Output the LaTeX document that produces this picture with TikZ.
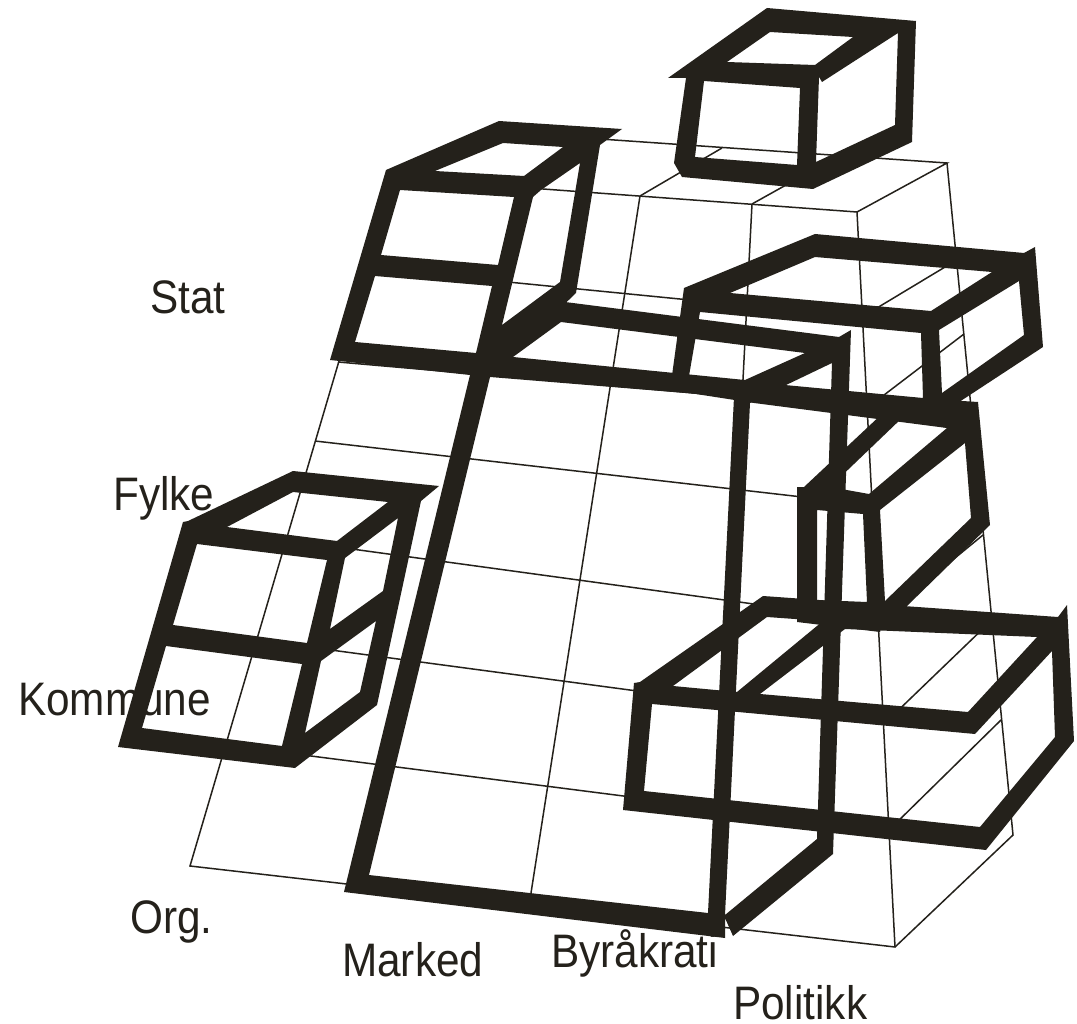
\documentclass[tikz,border=0pt]{standalone}
\usepackage{fontspec}
\usepackage{graphicx}
\setmainfont{Liberation Sans}
\definecolor{ink}{RGB}{36,33,27}
\tikzset{
  thinline/.style={draw=ink,line width=1.5pt,line join=miter},
  thickframe/.style={fill=ink,even odd rule,draw=none},
  axislabel/.style={anchor=base west,inner sep=0pt,text=ink,font=\fontsize{47}{50}\selectfont}
}
\newcommand{\lab}[1]{\scalebox{0.9}[1]{#1}}
\begin{document}
\begin{tikzpicture}[x=1pt,y=-1pt]
\fill[white] (0,0) rectangle (1077,1024);
\useasboundingbox (0,0) rectangle (1077,1024);

% thin grid
\draw[thinline] (393,178) -- (857,212) -- (947,163) -- (600,139);
\draw[thinline] (393,178) -- (190,866) -- (895,947) -- (1013,835) -- (947,163);
\draw[thinline] (857,212) -- (895,947);
\draw[thinline] (640,196) -- (531,893);
\draw[thinline] (752,204) -- (715,925);
\draw[thinline] (640,196) -- (722,148);
\draw[thinline] (752,204) -- (838,156);
\draw[thinline] (366,268) -- (862,317) -- (955,261);
\draw[thinline] (338,362) -- (867,408) -- (964,334);
\draw[thinline] (315,441) -- (872,505) -- (973,430);
\draw[thinline] (286,540) -- (878,621) -- (983,535);
\draw[thinline] (256,640) -- (884,724) -- (992,620);
\draw[thinline] (225,745) -- (889,830) -- (1001,720);

% top box
\path[thickframe]
  (767,8) -- (916,21) -- (912,142) -- (813,189) -- (682,177) -- (674,163) -- (686,78) -- (668,78) -- cycle
  (770,32) -- (853,37) -- (815,65) -- (727,62) -- cycle
  (704,81) -- (800,88) -- (797,165) -- (695,157) -- cycle
  (898,33) -- (895,125) -- (816,162) -- (819,77) -- (822,82) -- cycle;

% Stat box on the left
\path[thickframe]
  (499,121) -- (622,129) -- (600,145) -- (576,293) -- (488,378) -- (470,375) -- (330,360) -- (386,170) -- cycle
  (503,143) -- (563,147) -- (524,176) -- (435,171) -- cycle
  (400,190) -- (514,197) -- (498,265) -- (381,255) -- cycle
  (375,276) -- (492,286) -- (476,353) -- (355,342) -- cycle
  (580,163) -- (560,282) -- (502,325) -- (533,197) -- (541,190) -- cycle;

% large Marked box
\path[thickframe]
  (565,302) -- (839,337) -- (851,330) -- (833,854) -- (733,936) -- (725,918) -- (725,938) -- (344,892) -- (470,375) -- (555,310) -- cycle
  (561,322) -- (805,353) -- (745,380) -- (513,357) -- cycle
  (490,377) -- (734,397) -- (708,913) -- (369,875) -- cycle
  (832,363) -- (817,839) -- (725,915) -- (750,403) -- (784,386) -- cycle;

% upper right box
\path[thickframe]
  (815,234) -- (1024,253) -- (1035,247) -- (1043,347) -- (950,408) -- (947,428) -- (754,403) -- (670,390) -- (684,288) -- cycle
  (815,257) -- (992,272) -- (931,311) -- (730,293) -- cycle
  (700,312) -- (921,333) -- (923,398) -- (689,376) -- cycle
  (1019,281) -- (1024,335) -- (942,393) -- (939,330) -- cycle;

% Fylke-level box on the right
\path[thickframe]
  (900,397) -- (978,402) -- (990,525) -- (907,606) -- (885,618) -- (880,632) -- (797,622) -- (797,487) -- (804,487) -- cycle
  (902,418) -- (947,428) -- (869,494) -- (830,487) -- cycle
  (817,510) -- (863,514) -- (867,602) -- (817,600) -- cycle
  (965,443) -- (971,518) -- (885,601) -- (880,510) -- cycle;

% lower right box
\path[thickframe]
  (763,596) -- (1058,617) -- (1067,605) -- (1074,741) -- (986,850) -- (623,810) -- (634,683) -- (640,682) -- cycle
  (767,617) -- (823,621) -- (737,692) -- (673,686) -- cycle
  (845,629) -- (1037,637) -- (968,712) -- (760,694) -- cycle
  (652,704) -- (975,734) -- (1052,651) -- (1055,737) -- (980,827) -- (644,791) -- cycle;

% Kommune box on the left
\path[thickframe]
  (293,471) -- (439,486) -- (421,501) -- (377,705) -- (295,768) -- (118,747) -- (183,522) -- (188,521) -- cycle
  (293,492) -- (388,502) -- (337,541) -- (227,527) -- cycle
  (197,544) -- (327,560) -- (307,643) -- (173,625) -- cycle
  (166,646) -- (302,664) -- (282,746) -- (142,728) -- cycle
  (398,518) -- (383,591) -- (330,629) -- (345,558) -- cycle
  (376,621) -- (360,692) -- (305,733) -- (321,661) -- cycle;

% labels
\node[axislabel] (stat) at (150,314) {\lab{Stat}};
\node[axislabel] (fylke) at (113,510) {\lab{Fylke}};
\node[axislabel] (kommune) at (18,715) {\lab{Kommune}};
\node[axislabel] (org) at (130,933) {\lab{Org.}};
\node[axislabel] (marked) at (342,976) {\lab{Marked}};
\node[axislabel] (byraakrati) at (551,967) {\lab{Byråkrati}};
\node[axislabel] (politikk) at (733,1019) {\lab{Politikk}};
\end{tikzpicture}
\end{document}
